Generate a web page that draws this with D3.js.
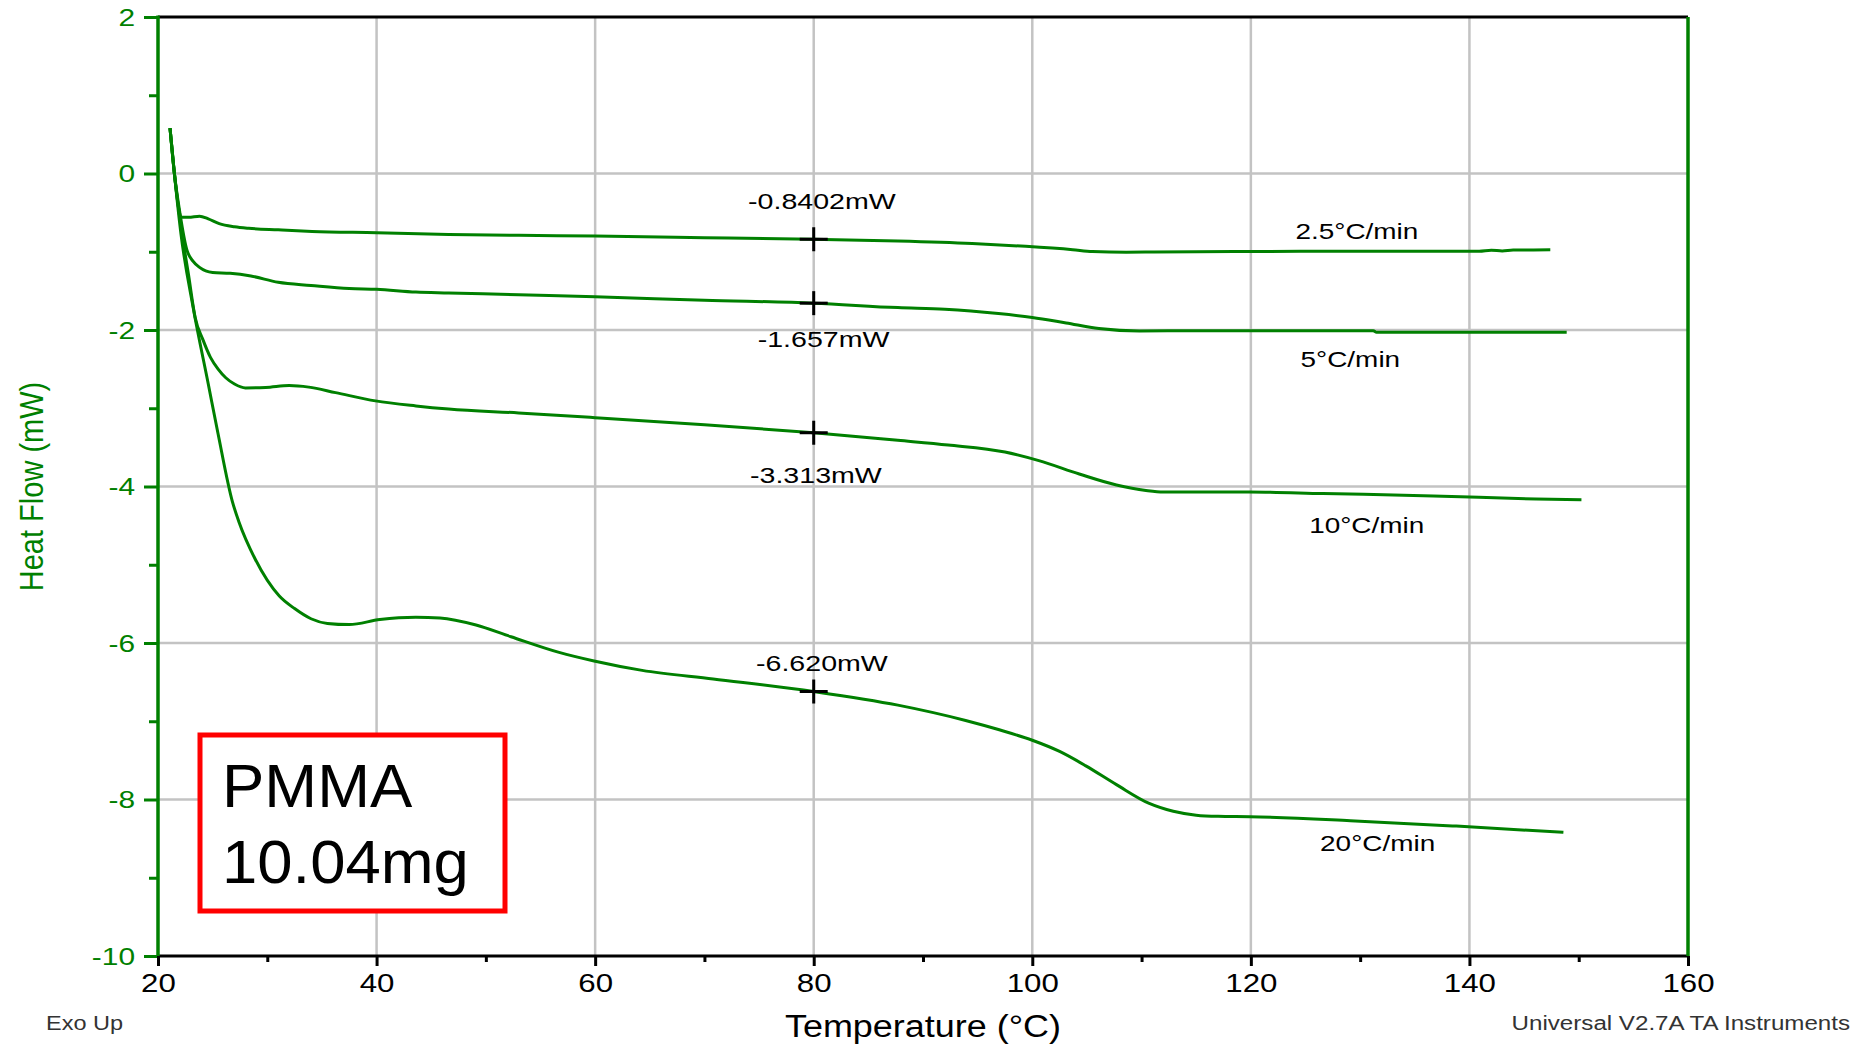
<!DOCTYPE html>
<html>
<head>
<meta charset="utf-8">
<script src="https://cdn.jsdelivr.net/npm/d3@7"></script>
<style>
  html, body { margin: 0; padding: 0; background: #fff; }
  svg { display: block; }
  text { font-family: Arial, "Liberation Sans", sans-serif; }
</style>
</head>
<body>
<div id="chart"></div>
<script>
// ---- data: [temperature °C, heat flow mW] ----
const rate25 = [
  [21.1, 0.58], [21.5, 0.0], [21.9, -0.45], [22.1, -0.56], [22.8, -0.56], [23.8, -0.545],
  [24.6, -0.58], [25.6, -0.64], [27, -0.68], [28.3, -0.70], [31, -0.72], [34.1, -0.74],
  [40, -0.756], [46.6, -0.778], [53, -0.79], [60, -0.80], [70, -0.82], [80, -0.84],
  [87.7, -0.862], [94.5, -0.894], [99.4, -0.931], [103.7, -0.974], [105.5, -0.997],
  [108.6, -1.005], [115, -1.0], [124.5, -0.995], [135, -0.995], [140.9, -0.993],
  [142, -0.98], [143, -0.99], [144, -0.978], [147.4, -0.976]
];
const rate5 = [
  [21.1, 0.58], [21.5, 0.0], [22.0, -0.5], [22.65, -0.98], [23.2, -1.12], [23.8, -1.2],
  [25.0, -1.265], [26.6, -1.275], [28.5, -1.31], [31, -1.39], [34, -1.43], [37.5, -1.47],
  [40, -1.48], [43.6, -1.515], [46.6, -1.526], [53, -1.55], [60, -1.575], [70, -1.62],
  [80, -1.657], [87.7, -1.714], [92, -1.735], [96.9, -1.79], [100, -1.84], [103.1, -1.91],
  [106.1, -1.98], [109.8, -2.012], [115, -2.01], [124.5, -2.01], [131.2, -2.01],
  [131.5, -2.03], [140, -2.03], [148.9, -2.03]
];
const rate10 = [
  [21.1, 0.58], [21.5, 0.0], [22.2, -0.77], [22.8, -1.3], [23.4, -1.84], [24.1, -2.12],
  [24.8, -2.35], [25.5, -2.5], [26.2, -2.61], [27, -2.69], [28.0, -2.74], [29.85, -2.735],
  [32.0, -2.71], [33.8, -2.73], [36.25, -2.80], [39.9, -2.906], [43.6, -2.97], [46.6, -3.01],
  [53, -3.06], [60, -3.12], [70, -3.21], [80, -3.313], [87.7, -3.41], [92.3, -3.47],
  [97.5, -3.56], [100.6, -3.67], [104.3, -3.84], [107.7, -3.98], [110.4, -4.05], [112, -4.07],
  [119.9, -4.07], [126.6, -4.09], [136.7, -4.12], [146.1, -4.16], [150.25, -4.17]
];
const rate20 = [
  [21.1, 0.58], [21.5, 0.0], [22.1, -0.77], [23.2, -1.7], [24.6, -2.69], [25.5, -3.33],
  [26.8, -4.19], [27.4, -4.45], [28.9, -4.93], [31.1, -5.40], [32.5, -5.56], [34, -5.69],
  [35.5, -5.75], [37.5, -5.765], [40.3, -5.70], [43.6, -5.67], [45.8, -5.68], [49.1, -5.77],
  [52.3, -5.92], [56.7, -6.12], [59.9, -6.23], [64.3, -6.35], [70.8, -6.46], [80, -6.62],
  [87.7, -6.794], [93.9, -6.99], [96.9, -7.106], [100, -7.243], [102.5, -7.386],
  [104.9, -7.57], [107.7, -7.81], [110.7, -8.05], [112.9, -8.15], [115, -8.2], [117, -8.215],
  [119.9, -8.22], [129.1, -8.27], [138.8, -8.34], [148.6, -8.42]
];
const seriesList = [rate25, rate5, rate10, rate20];

// rate labels, anchored in data coords
const rateNames = ["2.5°C/min", "5°C/min", "10°C/min", "20°C/min"];
const rateLabelT = [129.7, 129.1, 130.6, 131.6];
const rateLabelV = [-0.84, -2.475, -4.60, -8.66];

// marked values at 80 °C
const markT = 80;
const markValues = [-0.8402, -1.657, -3.313, -6.620];
const markTexts = ["-0.8402mW", "-1.657mW", "-3.313mW", "-6.620mW"];
const markLabelT = [80.75, 80.9, 80.2, 80.75];
const markLabelV = [-0.457, -2.22, -3.95, -6.36];

// axes
const xMajor = [20, 40, 60, 80, 100, 120, 140, 160];
const xMinor = [30, 50, 70, 90, 110, 130, 150];
const yMajor = [2, 0, -2, -4, -6, -8, -10];
const yMinor = [1, -1, -3, -5, -7, -9];
const xGrid = [40, 60, 80, 100, 120, 140];
const yGrid = [0, -2, -4, -6, -8];

const W = 1865, H = 1046;
const margin = { top: 17, right: 177, bottom: 90, left: 158 };
const GREEN = "#008000";
const GRID = "#c3c3c3";
const FONT = 'Arial, "Liberation Sans", sans-serif';

const svg = d3.select("#chart").append("svg")
  .attr("width", W)
  .attr("height", H);

const x = d3.scaleLinear().domain([20, 160]).range([margin.left, W - margin.right]);
const y = d3.scaleLinear().domain([-10, 2]).range([H - margin.bottom, margin.top]);

// stretched text helper (source image is stretched horizontally)
function label(g, tx, ty, str, { size = 22, sx = 1.25, anchor = "middle", fill = "#000" } = {}) {
  return g.append("text")
    .attr("transform", `translate(${tx},${ty}) scale(${sx},1)`)
    .attr("text-anchor", anchor)
    .attr("font-size", size)
    .attr("fill", fill)
    .text(str);
}

// ---- grid ----
const grid = svg.append("g");
grid.selectAll(".vg").data(xGrid).enter().append("line")
  .attr("x1", d => x(d)).attr("x2", d => x(d))
  .attr("y1", y(2)).attr("y2", y(-10))
  .attr("stroke", GRID).attr("stroke-width", 2.5);
grid.selectAll(".hg").data(yGrid).enter().append("line")
  .attr("x1", x(20)).attr("x2", x(160))
  .attr("y1", d => y(d)).attr("y2", d => y(d))
  .attr("stroke", GRID).attr("stroke-width", 2.5);

// ---- curves ----
const line = d3.line()
  .x(d => x(d[0]))
  .y(d => y(d[1]))
  .curve(d3.curveMonotoneX);

svg.append("g").selectAll("path")
  .data(seriesList)
  .enter().append("path")
  .attr("d", line)
  .attr("fill", "none")
  .attr("stroke", GREEN)
  .attr("stroke-width", 3)
  .attr("stroke-linejoin", "round");

// ---- markers at 80 °C ----
const marks = svg.append("g");
markValues.forEach((v, i) => {
  const cx = x(markT), cy = y(v);
  marks.append("line").attr("x1", cx - 14).attr("x2", cx + 14).attr("y1", cy).attr("y2", cy)
    .attr("stroke", "#000").attr("stroke-width", 3);
  marks.append("line").attr("x1", cx).attr("x2", cx).attr("y1", cy - 12).attr("y2", cy + 12)
    .attr("stroke", "#000").attr("stroke-width", 3);
  label(marks, x(markLabelT[i]), y(markLabelV[i]), markTexts[i], { size: 21.5, sx: 1.33 });
});

// rate labels
const rl = svg.append("g");
rateNames.forEach((s, i) => {
  label(rl, x(rateLabelT[i]), y(rateLabelV[i]), s, { size: 22, sx: 1.27 });
});

// ---- axes ----
const axG = svg.append("g");
const plain = d => String(d); // hyphen minus like the instrument software

// left (green)
const yAx = axG.append("g")
  .attr("transform", `translate(${margin.left},0)`)
  .call(d3.axisLeft(y).tickValues(yMajor).tickSize(14).tickPadding(9).tickFormat(plain));
yAx.select(".domain").remove();
yAx.selectAll(".tick line").attr("stroke", GREEN).attr("stroke-width", 3);
yAx.selectAll(".tick text").each(function () {
  d3.select(this)
    .attr("x", null).attr("dy", "0.36em")
    .attr("transform", "translate(-23,0) scale(1.3,1)")
    .attr("fill", GREEN).attr("font-size", 23)
    .attr("font-family", FONT);
});
const yAxMinor = axG.append("g")
  .attr("transform", `translate(${margin.left},0)`)
  .call(d3.axisLeft(y).tickValues(yMinor).tickSize(9).tickFormat(""));
yAxMinor.select(".domain").remove();
yAxMinor.selectAll(".tick line").attr("stroke", GREEN).attr("stroke-width", 3);

// bottom (black)
const xAx = axG.append("g")
  .attr("transform", `translate(0,${H - margin.bottom})`)
  .call(d3.axisBottom(x).tickValues(xMajor).tickSize(10).tickPadding(8).tickFormat(plain));
xAx.select(".domain").remove();
xAx.selectAll(".tick line").attr("stroke", "#000").attr("stroke-width", 3);
xAx.selectAll(".tick text").each(function () {
  d3.select(this)
    .attr("y", null).attr("dy", null)
    .attr("transform", "translate(0,36) scale(1.25,1)")
    .attr("fill", "#000").attr("font-size", 25)
    .attr("font-family", FONT);
});
const xAxMinor = axG.append("g")
  .attr("transform", `translate(0,${H - margin.bottom})`)
  .call(d3.axisBottom(x).tickValues(xMinor).tickSize(6).tickFormat(""));
xAxMinor.select(".domain").remove();
xAxMinor.selectAll(".tick line").attr("stroke", "#000").attr("stroke-width", 3);

// frame lines
const x0 = x(20), x1 = x(160), y0 = y(-10), y1 = y(2);
axG.append("line").attr("x1", x0).attr("x2", x1).attr("y1", y1).attr("y2", y1)
  .attr("stroke", "#000").attr("stroke-width", 3);
axG.append("line").attr("x1", x0).attr("x2", x1).attr("y1", y0).attr("y2", y0)
  .attr("stroke", "#000").attr("stroke-width", 3);
axG.append("line").attr("x1", x1).attr("x2", x1).attr("y1", y1).attr("y2", y0)
  .attr("stroke", GREEN).attr("stroke-width", 3.5);
axG.append("line").attr("x1", x0).attr("x2", x0).attr("y1", y1 - 1.5).attr("y2", y0)
  .attr("stroke", GREEN).attr("stroke-width", 3.5);

// axis titles
label(svg, (x0 + x1) / 2, 1037, "Temperature (°C)", { size: 31, sx: 1.16 });
svg.append("text")
  .attr("transform", `translate(43,${(y0 + y1) / 2}) rotate(-90) scale(1,1.15)`)
  .attr("text-anchor", "middle")
  .attr("font-size", 29)
  .attr("fill", GREEN)
  .text("Heat Flow (mW)");

// footer
label(svg, 46, 1030, "Exo Up", { size: 21, sx: 1.12, anchor: "start", fill: "#333" });
label(svg, 1850, 1030, "Universal V2.7A TA Instruments", { size: 21, sx: 1.15, anchor: "end", fill: "#333" });

// ---- sample box ----
const box = svg.append("g");
box.append("rect")
  .attr("x", 200).attr("y", 735).attr("width", 305).attr("height", 176)
  .attr("fill", "#fff").attr("stroke", "#ff0000").attr("stroke-width", 5);
label(box, 222, 807, "PMMA", { size: 61, sx: 1.04, anchor: "start" });
label(box, 222, 883, "10.04mg", { size: 61, sx: 1.04, anchor: "start" });
</script>
</body>
</html>
